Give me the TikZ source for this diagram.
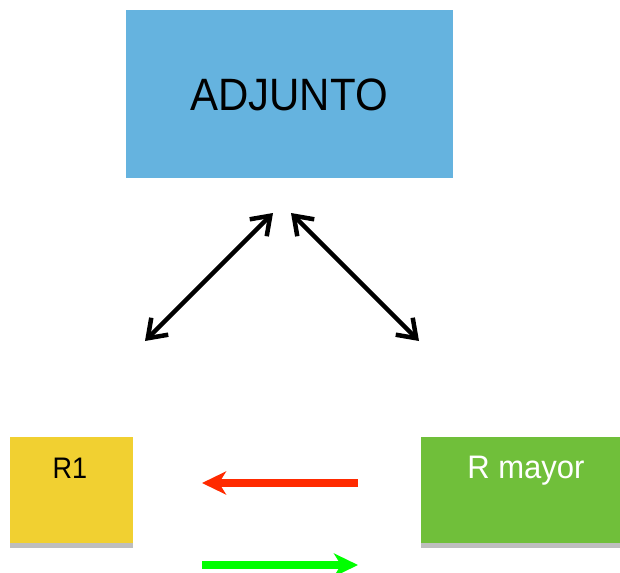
\documentclass[tikz,border=0pt]{standalone}
\usepackage{fontspec}
\setmainfont{Liberation Sans}
\usetikzlibrary{arrows.meta}
\definecolor{adjblue}{HTML}{65B3DF}
\definecolor{ryellow}{HTML}{F1D031}
\definecolor{rgreen}{HTML}{70BF3A}
\definecolor{shadowgrey}{HTML}{BEBEBE}
\definecolor{arrred}{HTML}{FF2A00}
\definecolor{arrgreen}{HTML}{00FF00}
\tikzset{
  box/.style={draw=none, inner sep=0pt, outer sep=0pt, anchor=north west},
  strip/.style={fill=shadowgrey, draw=none},
  dbl/.style={line width=4.5pt, line cap=round, {Straight Barb[length=17pt,width=24pt,line width=4.5pt]}-{Straight Barb[length=17pt,width=24pt,line width=4.5pt]}},
  flow/.style={line width=8pt, -{Stealth[length=24pt,width=23pt,inset=7pt]}}
}
\begin{document}
\begin{tikzpicture}[x=1pt,y=-1pt]
\useasboundingbox (0,0) rectangle (620,572);
% boxes
\node[box, fill=adjblue, minimum width=327pt, minimum height=168pt] (adj) at (126,10) {};
\node[font=\fontsize{42}{46}\selectfont, yscale=1.08] (adjtxt) at (289,95) {ADJUNTO};
\fill[strip] (10,543) rectangle (133,548);
\node[box, fill=ryellow, minimum width=123pt, minimum height=106pt] (r1) at (10,437) {};
\node[font=\fontsize{27}{30}\selectfont, anchor=base, yscale=1.1] (r1txt) at (70,478) {R1};
\fill[strip] (421,543) rectangle (620,548);
\node[box, fill=rgreen, minimum width=199pt, minimum height=106pt] (rm) at (421,437) {};
\node[font=\fontsize{31}{34}\selectfont, text=white, anchor=base, yscale=1.05] (rmtxt) at (526,478) {R mayor};
% arrow ends
\coordinate (a1) at (273,213);
\coordinate (a2) at (145,341);
\coordinate (b1) at (291,213);
\coordinate (b2) at (419,341);
\coordinate (c1) at (358,483);
\coordinate (c2) at (202,483);
\coordinate (d1) at (202,565);
\coordinate (d2) at (358,565);
\draw[dbl] (a1) -- (a2);
\draw[dbl] (b1) -- (b2);
\draw[flow, draw=arrred, fill=arrred] (c1) -- (c2);
\draw[flow, draw=arrgreen, fill=arrgreen] (d1) -- (d2);
\end{tikzpicture}
\end{document}
